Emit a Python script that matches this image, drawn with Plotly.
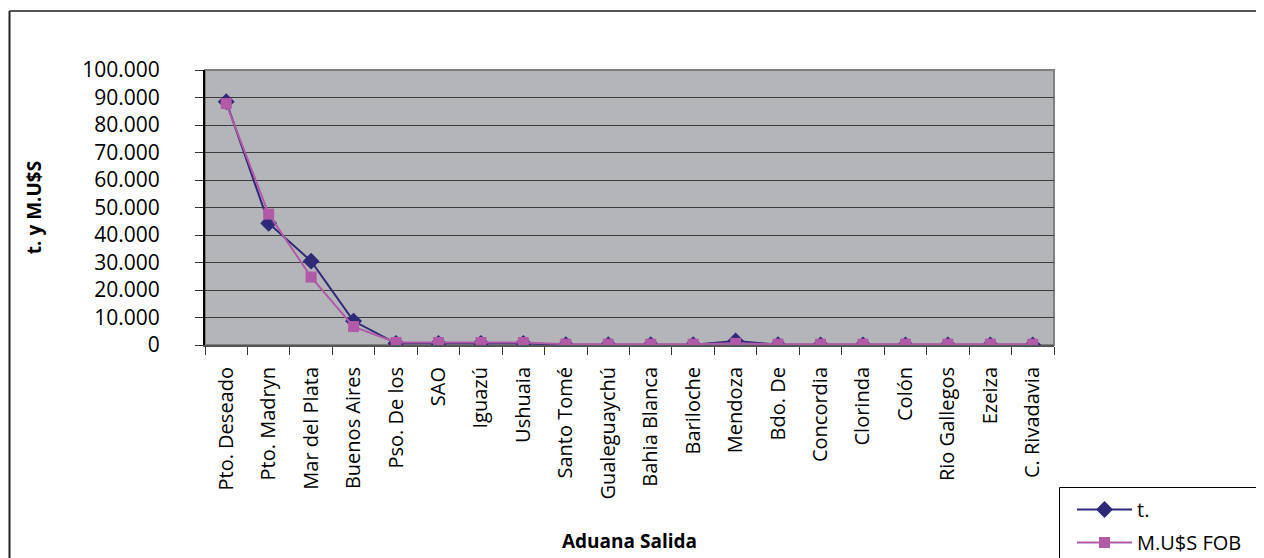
import plotly.graph_objects as go

categories = ["Pto. Deseado", "Pto. Madryn", "Mar del Plata", "Buenos Aires", "Pso. De los",
              "SAO", "Iguazú", "Ushuaia", "Santo Tomé", "Gualeguaychú", "Bahia Blanca",
              "Bariloche", "Mendoza", "Bdo. De", "Concordia", "Clorinda", "Colón",
              "Rio Gallegos", "Ezeiza", "C. Rivadavia"]
t_values = [88500, 44300, 30500, 8700, 600, 600, 600, 600, 100, 100, 100, 100, 1500, 100,
            50, 50, 50, 50, 50, 50]
usd_values = [87800, 47600, 24700, 6700, 900, 900, 900, 900, 300, 300, 300, 300, 600, 300,
              300, 300, 300, 300, 300, 300]
y_tickvals = [0, 10000, 20000, 30000, 40000, 50000, 60000, 70000, 80000, 90000, 100000]
y_ticktext = ["0", "10.000", "20.000", "30.000", "40.000", "50.000", "60.000", "70.000",
              "80.000", "90.000", "100.000"]

OFF = 8  # default page body margin
W, H = 1264 - OFF, 558 - OFF
L, R, T, B = 205 - OFF, 1054 - OFF, 70 - OFF, 345 - OFF


def px(x):
    return (x - OFF - L) / (R - L)


def py(y):
    return (B - (y - OFF)) / (B - T)


fig = go.Figure()
fig.add_trace(go.Scatter(
    x=categories, y=t_values, name="t.", mode="lines+markers", legendgroup="a",
    line=dict(color="#2E2A78", width=2),
    marker=dict(symbol="diamond", size=13, color="#2E2A78"),
))
fig.add_trace(go.Scatter(
    x=categories, y=usd_values, name="M.U$S FOB", mode="lines+markers", legendgroup="b",
    line=dict(color="#B05AA8", width=2),
    marker=dict(symbol="square", size=11, color="#B05AA8"),
))


def seg(x0, y0, x1, y1, color, width):
    return dict(type="line", xref="paper", yref="paper", x0=px(x0), y0=py(y0),
                x1=px(x1), y1=py(y1), line=dict(color=color, width=width))


fig.update_layout(
    width=W, height=H,
    margin=dict(l=L, r=W - R, t=T, b=H - B, pad=0, autoexpand=False),
    paper_bgcolor="white",
    plot_bgcolor="#B4B5B9",
    font=dict(family="Open Sans", color="black"),
    showlegend=True,
    legend=dict(
        x=px(1072), y=py(490), xanchor="left", yanchor="top",
        bgcolor="rgba(0,0,0,0)", borderwidth=0,
        font=dict(family="Open Sans", size=20, color="black"),
        itemwidth=55, traceorder="grouped", tracegroupgap=4,
    ),
    xaxis=dict(
        type="category", range=[-0.5, len(categories) - 0.5],
        showgrid=False, zeroline=False, automargin=False,
        showline=True, linecolor="#555555", linewidth=2,
        ticks="outside", tickson="boundaries", ticklen=8, tickcolor="#333333", tickwidth=1,
        tickangle=-90, tickfont=dict(family="Open Sans", size=20, color="black"),
        ticklabelstandoff=12,
        title=dict(text="Aduana Salida", font=dict(family="Open Sans", size=19, color="black",
                                                   weight="bold"), standoff=36),
    ),
    yaxis=dict(
        range=[0, 100000], tickvals=y_tickvals, ticktext=y_ticktext,
        showgrid=True, gridcolor="#3C3C3C", gridwidth=1, zeroline=False, automargin=False,
        showline=True, linecolor="black", linewidth=2,
        ticks="outside", ticklen=8, tickcolor="#333333", tickwidth=1,
        tickfont=dict(family="Open Sans", size=21, color="black"),
        ticklabelstandoff=31,
        title=dict(text="t. y M.U$S", font=dict(family="Open Sans", size=19, color="black",
                                                weight="bold"), standoff=36),
    ),
    shapes=[
        dict(type="rect", xref="paper", yref="paper", x0=0, x1=1, y0=0, y1=1,
             line=dict(color="#808080", width=2), layer="below"),
        seg(9.5, 11, 1264, 11, "#555555", 2),
        seg(9.5, 11, 9.5, 558, "#222222", 2),
        seg(1059.5, 487.5, 1264, 487.5, "black", 1),
        seg(1059.5, 487.5, 1059.5, 558, "black", 1),
    ],
)

fig.write_html("out.html")
